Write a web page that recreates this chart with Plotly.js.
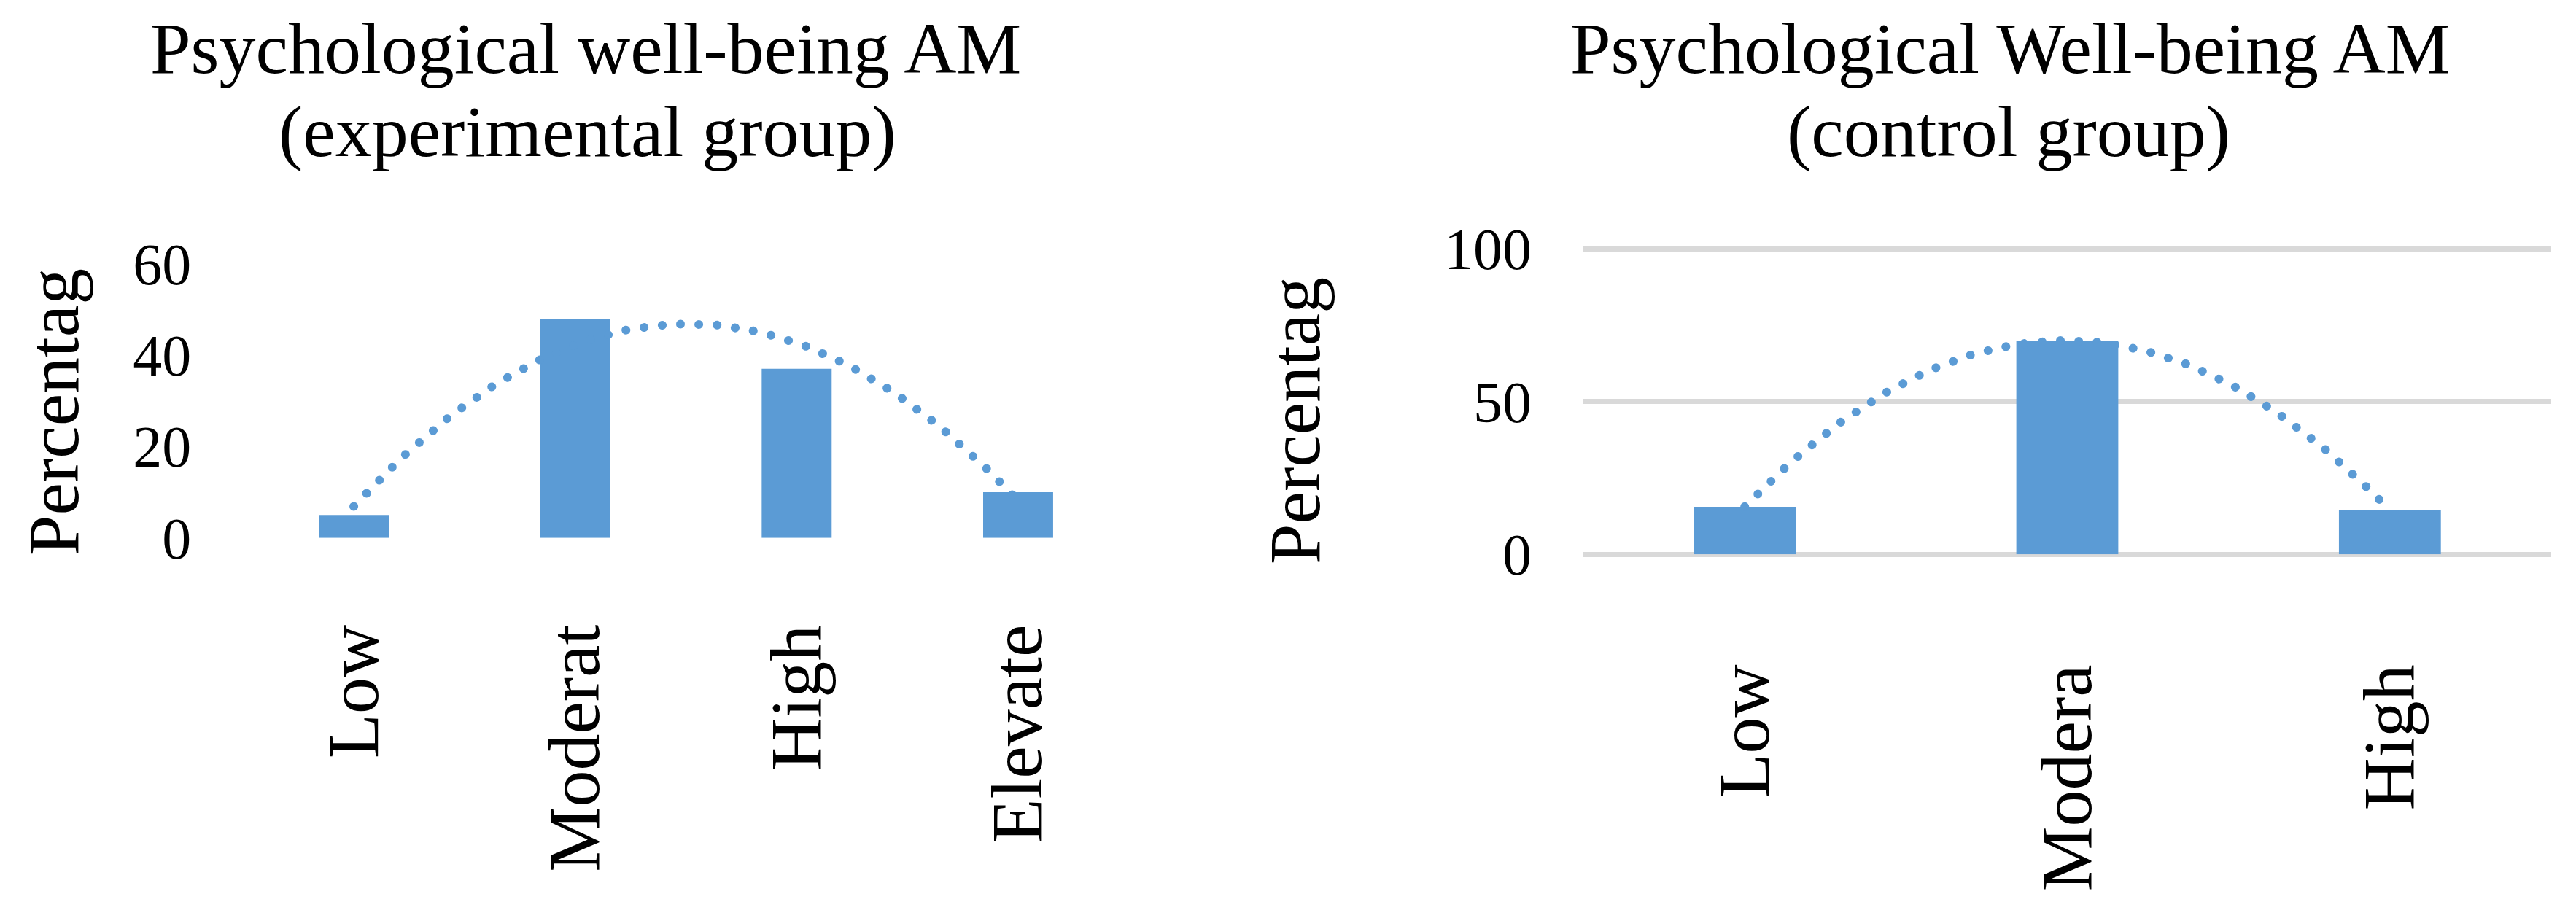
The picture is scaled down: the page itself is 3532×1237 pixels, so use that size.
<!DOCTYPE html>
<html>
<head>
<meta charset="utf-8">
<script src="https://cdn.plot.ly/plotly-3.0.1.min.js"></script>
<style>
  html, body { margin: 0; padding: 0; background: #ffffff; }
  #chart { width: 3532px; height: 1237px; }
</style>
</head>
<body>
<div id="chart"></div>
<script>
// ---- data ----
const expCategories = ["Low", "Moderat", "High", "Elevate"];
const expValues = [5, 48, 37, 10];
const ctlCategories = ["Low", "Modera", "High"];
const ctlValues = [15.6, 70.0, 14.4];
const expTitleLines = ["Psychological well-being AM", "(experimental group)"];
const ctlTitleLines = ["Psychological Well-being AM", "(control group)"];
const yTitle = "Percentag";
const expYTicks = [0, 20, 40, 60];
const ctlYTicks = [0, 50, 100];

// ---- Excel-style polynomial (order 2) trendline, least squares fit of the bar values ----
function quadFit(ys) {
  const n = ys.length;
  let s = [0, 0, 0, 0, 0], t = [0, 0, 0];
  for (let i = 0; i < n; i++) {
    const x = i + 1, y = ys[i];
    for (let k = 0; k < 5; k++) s[k] += Math.pow(x, k);
    for (let k = 0; k < 3; k++) t[k] += Math.pow(x, k) * y;
  }
  const A = [[s[0], s[1], s[2], t[0]], [s[1], s[2], s[3], t[1]], [s[2], s[3], s[4], t[2]]];
  for (let c = 0; c < 3; c++) {
    let p = c;
    for (let r = c + 1; r < 3; r++) if (Math.abs(A[r][c]) > Math.abs(A[p][c])) p = r;
    [A[c], A[p]] = [A[p], A[c]];
    for (let r = 0; r < 3; r++) {
      if (r === c) continue;
      const f = A[r][c] / A[c][c];
      for (let k = c; k < 4; k++) A[r][k] -= f * A[c][k];
    }
  }
  const coef = [A[0][3] / A[0][0], A[1][3] / A[1][1], A[2][3] / A[2][2]];
  const xs = [], vs = [];
  const steps = 120;
  for (let j = 0; j <= steps; j++) {
    const x = 1 + (n - 1) * j / steps;
    xs.push(x - 1);
    vs.push(coef[0] + coef[1] * x + coef[2] * x * x);
  }
  return { x: xs, y: vs };
}

const W = 3532, H = 1237;
const px = v => v / W;
const py = v => (H - v) / H;

const BAR = "#5b9bd5";
const FONT = "Liberation Serif";

const expIdx = expCategories.map((_, i) => i);
const ctlIdx = ctlCategories.map((_, i) => i);
const expTrend = quadFit(expValues);
const ctlTrend = quadFit(ctlValues);

const traces = [
  { type: "bar", x: expIdx, y: expValues, xaxis: "x", yaxis: "y",
    marker: { color: BAR }, hoverinfo: "skip", showlegend: false },
  { type: "scatter", mode: "lines", x: expTrend.x, y: expTrend.y, xaxis: "x", yaxis: "y",
    line: { color: BAR, width: 12, dash: "dot" }, hoverinfo: "skip", showlegend: false },
  { type: "bar", x: ctlIdx, y: ctlValues, xaxis: "x2", yaxis: "y2",
    marker: { color: BAR }, hoverinfo: "skip", showlegend: false },
  { type: "scatter", mode: "lines", x: ctlTrend.x, y: ctlTrend.y, xaxis: "x2", yaxis: "y2",
    line: { color: BAR, width: 12, dash: "dot" }, hoverinfo: "skip", showlegend: false }
];

const tickFont = { family: FONT, size: 80, color: "#000000" };
const catFont = { family: FONT, size: 100, color: "#000000" };
const titleFont = { family: FONT, size: 100, color: "#000000" };

// right chart: 0 at y=760.3px, 100 at y=341.2px; range extended slightly so the 100 gridline is drawn
const ctlTop = 102;
const ctlPxPerUnit = (760.3 - 341.2) / 100;

const layout = {
  width: W, height: H,
  margin: { l: 0, r: 0, t: 0, b: 0, pad: 0 },
  paper_bgcolor: "#ffffff", plot_bgcolor: "#ffffff",
  bargap: 0.684,
  showlegend: false,
  font: { family: FONT, color: "#000000" },
  xaxis: {
    domain: [px(333.2), px(1547.8)], anchor: "y",
    range: [-0.5, expCategories.length - 0.5],
    tickmode: "array", tickvals: expIdx, ticktext: expCategories,
    tickangle: -90, tickfont: catFont, ticks: "", showgrid: false, zeroline: false,
    showline: false, automargin: false, ticklabelstandoff: 98
  },
  yaxis: {
    domain: [py(737.7), py(361.7)], anchor: "x",
    range: [0, 60], tickmode: "array", tickvals: expYTicks,
    tickfont: tickFont, ticks: "", showgrid: false, zeroline: false, showline: false,
    automargin: false, ticklabelstandoff: 70
  },
  xaxis2: {
    domain: [px(2171), px(3498)], anchor: "y2",
    range: [-0.5, ctlCategories.length - 0.5],
    tickmode: "array", tickvals: ctlIdx, ticktext: ctlCategories,
    tickangle: -90, tickfont: catFont, ticks: "", showgrid: false, zeroline: false,
    showline: false, automargin: false, ticklabelstandoff: 130
  },
  yaxis2: {
    domain: [py(760.3), py(760.3 - ctlTop * ctlPxPerUnit)], anchor: "x2",
    range: [0, ctlTop], tickmode: "array", tickvals: ctlYTicks,
    tickfont: tickFont, ticks: "", showgrid: true, gridcolor: "#d9d9d9", gridwidth: 7,
    zeroline: true, zerolinecolor: "#d9d9d9", zerolinewidth: 7, showline: false,
    automargin: false, ticklabelstandoff: 70
  },
  annotations: [
    { text: expTitleLines[0], xref: "paper", yref: "paper", x: px(803), y: py(66),
      xanchor: "center", yanchor: "middle", showarrow: false, font: titleFont },
    { text: expTitleLines[1], xref: "paper", yref: "paper", x: px(805), y: py(181),
      xanchor: "center", yanchor: "middle", showarrow: false, font: titleFont },
    { text: ctlTitleLines[0], xref: "paper", yref: "paper", x: px(2756), y: py(66),
      xanchor: "center", yanchor: "middle", showarrow: false, font: titleFont },
    { text: ctlTitleLines[1], xref: "paper", yref: "paper", x: px(2754), y: py(181),
      xanchor: "center", yanchor: "middle", showarrow: false, font: titleFont },
    { text: yTitle, xref: "paper", yref: "paper", x: px(73), y: py(565), textangle: -90,
      xanchor: "center", yanchor: "middle", showarrow: false, font: titleFont },
    { text: yTitle, xref: "paper", yref: "paper", x: px(1776), y: py(577), textangle: -90,
      xanchor: "center", yanchor: "middle", showarrow: false, font: titleFont }
  ]
};

Plotly.newPlot("chart", traces, layout, { staticPlot: true, displayModeBar: false }).then(gd => {
  gd.querySelectorAll(".scatterlayer .js-line").forEach(p => {
    p.style.strokeLinecap = "round";
    p.style.strokeDasharray = "0.1px, 25px";
  });
});
</script>
</body>
</html>
